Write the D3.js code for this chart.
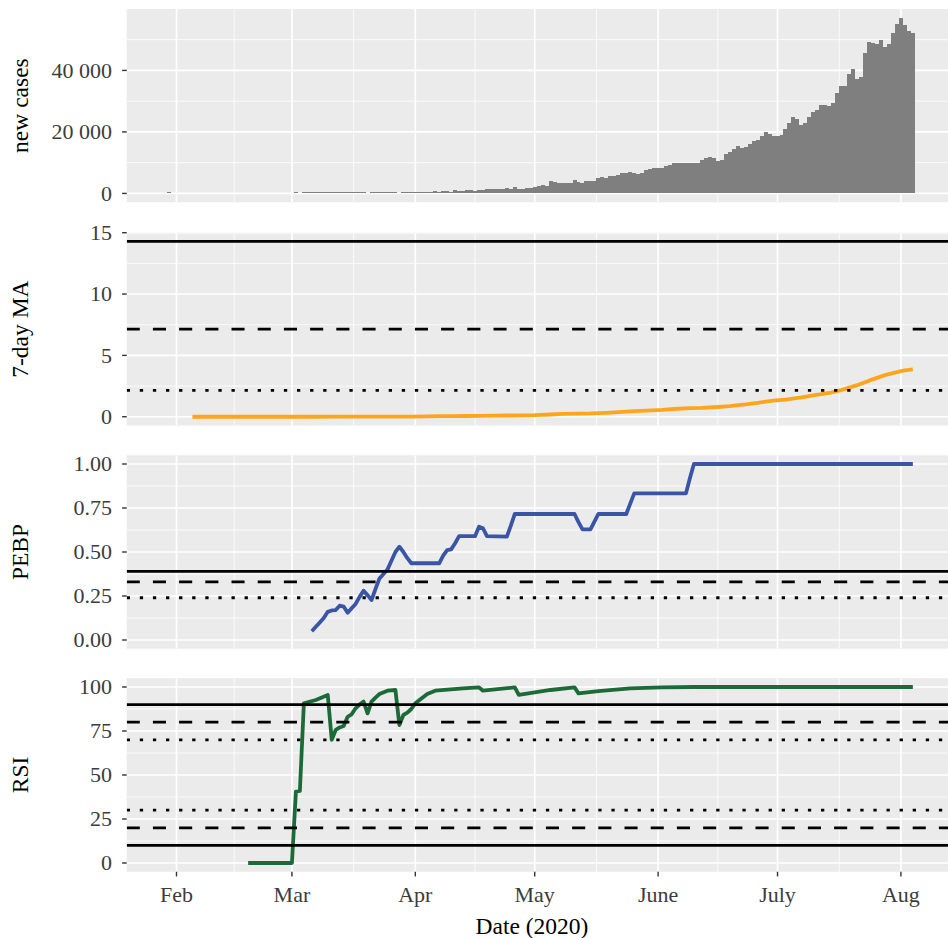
<!DOCTYPE html>
<html>
<head>
<meta charset="utf-8">
<script src="https://cdn.jsdelivr.net/npm/d3@7"></script>
<style>
  html, body { margin: 0; padding: 0; background: #ffffff; }
  svg { display: block; }
  text { font-family: "Liberation Serif", "Times New Roman", serif; }
</style>
</head>
<body>
<svg id="chart" width="948" height="938"></svg>
<script>
// ---------------- data ----------------
// Daily new confirmed cases, one value per day starting 2020-01-30
const casesStart = "2020-01-30";
const newCases = [
  // Jan 30-31
  1, 0,
  // Feb 1-29
  0, 0, 0, 0, 0, 0, 0, 0, 0, 0, 0, 0, 0, 0, 0, 0, 0, 0, 0, 0, 0, 0, 0, 0, 0, 0, 0, 0, 0,
  // Mar
  0, 2, 0, 23, 2, 1, 3, 5, 9, 15, 8, 10, 9, 7, 26, 8, 23, 14, 36, 0, 104, 64, 89, 31, 86, 88, 75, 0, 194, 106, 227,
  // Apr
  437, 486, 560, 579, 609, 848, 508, 773, 678, 591, 1035, 909, 796, 1211, 1076, 941, 1007, 1076, 1334, 1553,
  1336, 1383, 1409, 1684, 1429, 1990, 1396, 1543, 1897, 1718,
  // May
  2211, 2564, 2806, 2487, 3932, 3561, 3390, 3320, 3277, 3344, 4213, 3604, 3524, 3942, 4180, 4120, 4987, 5242, 4970, 5611,
  5609, 6088, 6654, 6767, 6977, 6535, 6387, 6566, 7466, 7964, 8380,
  // Jun
  8392, 8171, 8909, 9304, 9851, 9887, 9971, 9983, 9987, 9985, 9996, 10956, 11458, 11929, 11502, 10667, 10974, 12881, 13586, 14516,
  15413, 14821, 14933, 15968, 16922, 17296, 18552, 19906, 19459, 18522,
  // Jul
  18653, 19148, 20903, 22771, 24850, 24248, 22252, 22752, 24879, 26506, 27114, 28637, 28701, 28498, 29429, 32695, 34956, 34884, 38902, 40425,
  37148, 37724, 45720, 49310, 48916, 48661, 49931, 47703, 48513, 52123, 55079,
  // Aug 1-4
  57118, 54735, 52972, 52050
];

// 7-day moving average per 100 000 inhabitants
const maDates = [
  "2020-02-05", "2020-03-04", "2020-03-15", "2020-03-24", "2020-03-31", "2020-04-04", "2020-04-07", "2020-04-10",
  "2020-04-14", "2020-04-17", "2020-04-21", "2020-04-24", "2020-04-28", "2020-05-01", "2020-05-05", "2020-05-08",
  "2020-05-12", "2020-05-15", "2020-05-19", "2020-05-22", "2020-05-26", "2020-05-29", "2020-06-02", "2020-06-05",
  "2020-06-09", "2020-06-12", "2020-06-16", "2020-06-19", "2020-06-23", "2020-06-26", "2020-06-30", "2020-07-03",
  "2020-07-07", "2020-07-10", "2020-07-14", "2020-07-17", "2020-07-21", "2020-07-24", "2020-07-28", "2020-07-31",
  "2020-08-01", "2020-08-02", "2020-08-03", "2020-08-04"
];
const maValues = [
  0, 0, 0.001, 0.004, 0.008, 0.027, 0.042, 0.047,
  0.062, 0.072, 0.086, 0.101, 0.112, 0.126, 0.182, 0.228,
  0.256, 0.270, 0.321, 0.379, 0.458, 0.490, 0.552, 0.631,
  0.703, 0.722, 0.792, 0.859, 1.005, 1.137, 1.311, 1.399,
  1.582, 1.742, 1.937, 2.174, 2.572, 2.941, 3.395, 3.633,
  3.717, 3.780, 3.811, 3.856
];
const maThresholds = [14.286, 7.143, 2.143];

// PEBP
const pebpDates = [
  "2020-03-06", "2020-03-07", "2020-03-08", "2020-03-09", "2020-03-10", "2020-03-11", "2020-03-12", "2020-03-13",
  "2020-03-14", "2020-03-15", "2020-03-16", "2020-03-17", "2020-03-18", "2020-03-19", "2020-03-20", "2020-03-21",
  "2020-03-22", "2020-03-23", "2020-03-24", "2020-03-25", "2020-03-26", "2020-03-27", "2020-03-28", "2020-03-29",
  "2020-03-30", "2020-03-31", "2020-04-07", "2020-04-08", "2020-04-09", "2020-04-10", "2020-04-11", "2020-04-12",
  "2020-04-16", "2020-04-17", "2020-04-18", "2020-04-19", "2020-04-24", "2020-04-25", "2020-04-26", "2020-05-11",
  "2020-05-12", "2020-05-13", "2020-05-15", "2020-05-16", "2020-05-17", "2020-05-24", "2020-05-25", "2020-05-26",
  "2020-06-08", "2020-06-09", "2020-06-10", "2020-08-04"
];
const pebpValues = [
  0.05, 0.075, 0.10, 0.125, 0.16, 0.168, 0.17, 0.195,
  0.19, 0.155, 0.18, 0.205, 0.245, 0.28, 0.255, 0.227,
  0.29, 0.35, 0.375, 0.40, 0.45, 0.50, 0.53, 0.50,
  0.465, 0.436, 0.436, 0.48, 0.511, 0.515, 0.55, 0.59,
  0.59, 0.644, 0.635, 0.59, 0.587, 0.65, 0.716, 0.716,
  0.67, 0.629, 0.629, 0.672, 0.716, 0.716, 0.775, 0.833,
  0.833, 0.92, 1.0, 1.0
];
const pebpThresholds = [0.39, 0.33, 0.24];

// RSI
const rsiDates = [
  "2020-02-19", "2020-03-01", "2020-03-02", "2020-03-03", "2020-03-04", "2020-03-07", "2020-03-10", "2020-03-11",
  "2020-03-12", "2020-03-13", "2020-03-14", "2020-03-15", "2020-03-16", "2020-03-17", "2020-03-18", "2020-03-19",
  "2020-03-20", "2020-03-21", "2020-03-22", "2020-03-23", "2020-03-25", "2020-03-27", "2020-03-28", "2020-03-29",
  "2020-03-30", "2020-03-31", "2020-04-01", "2020-04-04", "2020-04-06", "2020-04-13", "2020-04-17", "2020-04-18",
  "2020-04-26", "2020-04-27", "2020-05-05", "2020-05-11", "2020-05-12", "2020-05-17", "2020-05-25", "2020-06-02",
  "2020-06-10", "2020-08-04"
];
const rsiValues = [
  0, 0, 40.5, 41, 90.7, 92.6, 95.5, 70,
  75.6, 77, 77.8, 83.1, 84.5, 87.9, 90, 91.7,
  85, 91.7, 94, 96, 97.9, 98.3, 78.4, 84.1,
  85.4, 87.5, 90.7, 96, 97.9, 99.2, 99.8, 97.9,
  99.8, 95.5, 98.3, 99.8, 96.4, 97.7, 99.2, 99.8,
  100, 100
];
const rsiThresholds = [90, 80, 70, 30, 20, 10];

// axis breaks and labels
const monthTicks = ["2020-02-01", "2020-03-01", "2020-04-01", "2020-05-01", "2020-06-01", "2020-07-01", "2020-08-01"];
const monthLabels = ["Feb", "Mar", "Apr", "May", "June", "July", "Aug"];
const casesTicks = [0, 20000, 40000];
const casesTickLabels = ["0", "20 000", "40 000"];
const maTicks = [0, 5, 10, 15];
const maTickLabels = ["0", "5", "10", "15"];
const pebpTicks = [0, 0.25, 0.5, 0.75, 1];
const pebpTickLabels = ["0.00", "0.25", "0.50", "0.75", "1.00"];
const rsiTicks = [0, 25, 50, 75, 100];
const rsiTickLabels = ["0", "25", "50", "75", "100"];

// ---------------- layout ----------------
const parse = d3.utcParse("%Y-%m-%d");
const svg = d3.select("#chart");
svg.append("rect").attr("width", 948).attr("height", 938).attr("fill", "#ffffff");

const panelLeft = 126.7, panelRight = 948;
const x = d3.scaleUtc()
  .domain([parse("2020-02-01"), parse("2020-08-01")])
  .range([176.5, 900.9]);

const tickDates = monthTicks.map(parse);
const minorDates = d3.pairs(tickDates).map(([a, b]) => new Date((+a + +b) / 2));

const lineStyles = {
  solid: null,
  dashed: "13.1,13.1",
  dotted: "3.3,9.8"
};

const tickFont = 22;
const titleFont = 23.5;
const tickColour = "#3C3C3C";

function panel(opts) {
  const { top, bottom, domain, ticks, tickLabels, title, id } = opts;
  const y = d3.scaleLinear().domain(domain).range([bottom, top]);
  const g = svg.append("g");

  g.append("rect")
    .attr("x", panelLeft).attr("y", top)
    .attr("width", panelRight - panelLeft).attr("height", bottom - top)
    .attr("fill", "#EBEBEB");

  const clipId = "clip-" + id;
  svg.append("clipPath").attr("id", clipId)
    .append("rect")
    .attr("x", panelLeft).attr("y", top)
    .attr("width", panelRight - panelLeft).attr("height", bottom - top);

  const inner = g.append("g").attr("clip-path", `url(#${clipId})`);

  // minor grid
  const step = ticks[1] - ticks[0];
  const yMinor = [ticks[0] - step / 2].concat(ticks.map(v => v + step / 2))
    .filter(v => v > domain[0] && v < domain[1]);
  inner.selectAll(".ymin").data(yMinor).join("line")
    .attr("x1", panelLeft).attr("x2", panelRight)
    .attr("y1", d => y(d)).attr("y2", d => y(d))
    .attr("stroke", "#ffffff").attr("stroke-width", 0.8);
  inner.selectAll(".xmin").data(minorDates).join("line")
    .attr("x1", d => x(d)).attr("x2", d => x(d))
    .attr("y1", top).attr("y2", bottom)
    .attr("stroke", "#ffffff").attr("stroke-width", 0.8);

  // major grid
  inner.selectAll(".ymaj").data(ticks).join("line")
    .attr("x1", panelLeft).attr("x2", panelRight)
    .attr("y1", d => y(d)).attr("y2", d => y(d))
    .attr("stroke", "#ffffff").attr("stroke-width", 1.6);
  inner.selectAll(".xmaj").data(tickDates).join("line")
    .attr("x1", d => x(d)).attr("x2", d => x(d))
    .attr("y1", top).attr("y2", bottom)
    .attr("stroke", "#ffffff").attr("stroke-width", 1.6);

  // y axis ticks and labels
  const axis = g.append("g");
  axis.selectAll("line").data(ticks).join("line")
    .attr("x1", panelLeft - 4.6).attr("x2", panelLeft)
    .attr("y1", d => y(d)).attr("y2", d => y(d))
    .attr("stroke", "#333333").attr("stroke-width", 1.4);
  axis.selectAll("text").data(ticks).join("text")
    .attr("x", 112)
    .attr("y", d => y(d) + 7.3)
    .attr("text-anchor", "end")
    .attr("font-size", tickFont)
    .attr("fill", tickColour)
    .text((d, i) => tickLabels[i]);

  // y title
  g.append("text")
    .attr("transform", `translate(27.5,${(top + bottom) / 2}) rotate(-90)`)
    .attr("text-anchor", "middle")
    .attr("font-size", titleFont)
    .attr("fill", "#000000")
    .text(title);

  return { g: inner, y };
}

function thresholdLines(p, values, styles) {
  p.g.selectAll(".thr").data(values).join("line")
    .attr("x1", panelLeft).attr("x2", panelRight)
    .attr("y1", d => p.y(d)).attr("y2", d => p.y(d))
    .attr("stroke", "#000000")
    .attr("stroke-width", 2.8)
    .attr("stroke-dasharray", (d, i) => lineStyles[styles[i]]);
}

function seriesLine(p, dates, values, colour) {
  const pts = dates.map((d, i) => [parse(d), values[i]]);
  p.g.append("path")
    .datum(pts)
    .attr("fill", "none")
    .attr("stroke", colour)
    .attr("stroke-width", 3.8)
    .attr("stroke-linejoin", "round")
    .attr("stroke-linecap", "butt")
    .attr("d", d3.line().x(d => x(d[0])).y(d => p.y(d[1])));
}

// ---------- panel 1: new cases ----------
const maxCases = d3.max(newCases);
const p1 = panel({
  id: "cases", top: 9, bottom: 202.2,
  domain: [-0.05 * maxCases, 1.05 * maxCases],
  ticks: casesTicks, tickLabels: casesTickLabels, title: "new cases"
});
const day0 = parse(casesStart);
const bars = newCases.map((v, i) => ({ date: d3.utcDay.offset(day0, i), value: v }));
p1.g.selectAll(".bar").data(bars.filter(d => d.value > 0)).join("rect")
  .attr("x", d => x(d3.utcHour.offset(d.date, -12)))
  .attr("width", d => x(d3.utcHour.offset(d.date, 12)) - x(d3.utcHour.offset(d.date, -12)))
  .attr("y", d => Math.min(p1.y(d.value), p1.y(0) - 1))
  .attr("height", d => Math.max(1, p1.y(0) - p1.y(d.value)))
  .attr("fill", "#7F7F7F")
  .attr("shape-rendering", "crispEdges");

// ---------- panel 2: 7-day MA ----------
const maTop = d3.max(maThresholds);
const p2 = panel({
  id: "ma", top: 232.7, bottom: 425.5,
  domain: [-0.05 * maTop, 1.05 * maTop],
  ticks: maTicks, tickLabels: maTickLabels, title: "7-day MA"
});
seriesLine(p2, maDates, maValues, "#FFA51C");
thresholdLines(p2, maThresholds, ["solid", "dashed", "dotted"]);

// ---------- panel 3: PEBP ----------
const p3 = panel({
  id: "pebp", top: 455.2, bottom: 648.8,
  domain: [-0.05, 1.05],
  ticks: pebpTicks, tickLabels: pebpTickLabels, title: "PEBP"
});
seriesLine(p3, pebpDates, pebpValues, "#3A55A6");
thresholdLines(p3, pebpThresholds, ["solid", "dashed", "dotted"]);

// ---------- panel 4: RSI ----------
const p4 = panel({
  id: "rsi", top: 678.2, bottom: 871.8,
  domain: [-5, 105],
  ticks: rsiTicks, tickLabels: rsiTickLabels, title: "RSI"
});
seriesLine(p4, rsiDates, rsiValues, "#1C6A38");
thresholdLines(p4, rsiThresholds, ["solid", "dashed", "dotted", "dotted", "dashed", "solid"]);

// ---------- shared x axis ----------
const xAxis = svg.append("g");
xAxis.selectAll("line").data(tickDates).join("line")
  .attr("x1", d => x(d)).attr("x2", d => x(d))
  .attr("y1", 871.8).attr("y2", 876.4)
  .attr("stroke", "#333333").attr("stroke-width", 1.4);
xAxis.selectAll("text").data(tickDates).join("text")
  .attr("x", d => x(d))
  .attr("y", 901.5)
  .attr("text-anchor", "middle")
  .attr("font-size", tickFont)
  .attr("fill", tickColour)
  .text((d, i) => monthLabels[i]);
svg.append("text")
  .attr("x", 532)
  .attr("y", 933.5)
  .attr("text-anchor", "middle")
  .attr("font-size", titleFont)
  .attr("fill", "#000000")
  .text("Date (2020)");
</script>
</body>
</html>
